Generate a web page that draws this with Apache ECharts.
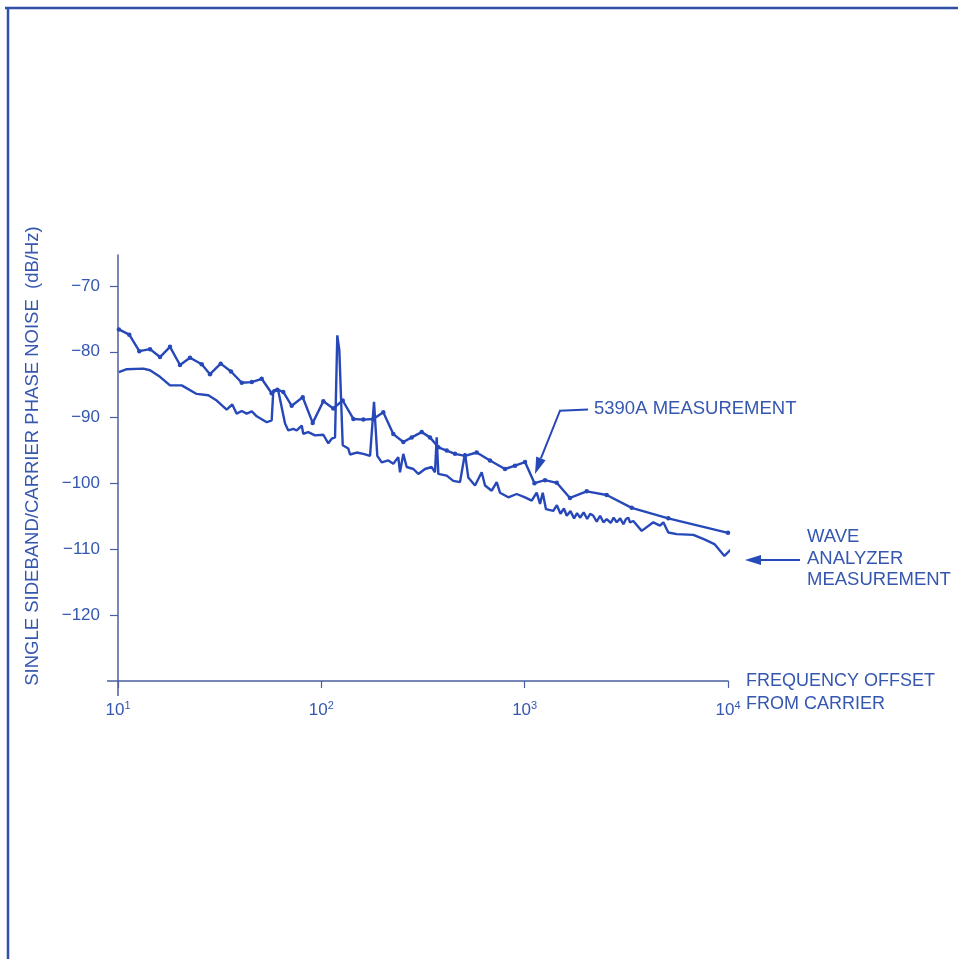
<!DOCTYPE html>
<html>
<head>
<meta charset="utf-8">
<script src="https://cdn.jsdelivr.net/npm/echarts@6/dist/echarts.min.js"></script>
<style>
html,body{margin:0;padding:0;background:#fff;}
#chart{width:958px;height:959px;}
</style>
</head>
<body>
<div id="chart"></div>
<script>
// 5390A measurement (upper, with dots): frequency offset (Hz) and dB/Hz
const upperX = [10.1, 11.36, 12.73, 14.37, 16.09, 18.02, 20.18, 22.6, 25.8, 28.35, 32.0, 35.95, 40.6, 45.5, 50.9, 57.0, 60.8, 65.0, 71.5, 81.0, 90.7, 102.3, 114.5, 127.4, 143.7, 160.9, 180.2, 201.7, 225.9, 253.0, 278.3, 311.6, 342.3, 376.2, 413.7, 454.4, 508.8, 580.9, 675.2, 800.5, 896.4, 1004, 1118, 1259, 1438, 1671, 2019, 2532, 3361, 5087, 10000];
const upperY = [-76.6, -77.4, -79.9, -79.6, -80.8, -79.25, -82.0, -80.9, -81.9, -83.4, -81.8, -83.0, -84.7, -84.6, -84.1, -86.3, -85.75, -86.1, -88.2, -86.9, -90.8, -87.5, -88.6, -87.4, -90.2, -90.3, -90.2, -89.2, -92.5, -93.7, -93.0, -92.2, -93.0, -94.5, -95.0, -95.5, -95.8, -95.3, -96.5, -97.8, -97.3, -96.75, -99.95, -99.5, -99.9, -102.2, -101.2, -101.75, -103.7, -105.3, -107.5];

// Wave analyzer measurement (lower, noisy with line-frequency spurs)
const lowerX = [10.1, 11.04, 13.32, 14.37, 16.09, 18.02, 20.57, 24.38, 27.8, 30.58, 34.24, 36.48, 38.35, 40.6, 42.95, 45.5, 48.1, 53.9, 57.0, 58.05, 61.2, 66.3, 68.8, 72.8, 75.7, 80.1, 81.5, 86.3, 93.1, 102.3, 108.2, 112.5, 116.8, 119.8, 122.6, 127.4, 135.7, 138.4, 149.3, 160.9, 173.6, 181.6, 188.5, 198.1, 213.5, 225.9, 239.0, 243.7, 253.0, 262.9, 283.5, 300, 323.5, 349, 362.2, 369.3, 376.2, 413.7, 445.7, 480.8, 508.8, 528.1, 569.9, 614.8, 638.2, 688.5, 728.6, 756.3, 830.9, 913.7, 1004, 1083, 1146, 1190, 1227, 1273, 1383, 1440, 1500, 1560, 1610, 1680, 1750, 1810, 1872, 1950, 2030, 2100, 2176, 2260, 2350, 2440, 2532, 2650, 2740, 2836, 2950, 3060, 3150, 3234, 3296, 3422, 3764, 4293, 4630, 4808, 5087, 5595, 6752, 7654, 8574, 9601, 10360, 11165];
const lowerY = [-83.1, -82.65, -82.55, -82.8, -83.8, -85.1, -85.1, -86.4, -86.6, -87.4, -88.8, -88.0, -89.4, -89.0, -89.4, -89.05, -89.8, -90.7, -90.4, -85.85, -85.7, -90.9, -91.95, -91.7, -91.95, -91.2, -92.45, -92.2, -92.7, -92.6, -93.9, -93.2, -93.0, -77.5, -79.75, -94.2, -94.7, -95.6, -95.3, -95.5, -95.8, -87.6, -95.8, -96.8, -96.5, -97.0, -96.0, -98.3, -95.5, -97.5, -97.8, -98.55, -97.8, -97.5, -98.3, -93.0, -98.55, -98.8, -99.6, -99.8, -95.4, -99.1, -100.3, -98.3, -100.3, -101.1, -99.8, -101.4, -102.1, -101.6, -102.1, -102.6, -101.4, -103.1, -101.4, -103.9, -104.15, -103.3, -104.6, -103.8, -104.9, -104.2, -105.3, -104.5, -105.2, -104.4, -105.4, -104.6, -104.9, -105.8, -104.9, -105.9, -105.4, -106.0, -105.2, -105.9, -105.3, -106.2, -105.4, -105.2, -105.9, -105.7, -107.2, -105.9, -106.4, -105.9, -107.45, -107.7, -107.8, -108.5, -109.2, -111.0, -110.0, -111.8];

const yTicks = [-120, -110, -100, -90, -80, -70];
const xTicks = [10, 100, 1000, 10000];

const upperData = upperX.map((x, i) => [x, upperY[i]]);
const lowerData = lowerX.map((x, i) => [x, lowerY[i]]);

const LINE = '#2748b8';
const TEXT = '#3557b0';
const AXIS = '#4a5f9e';
const FONT = '"Liberation Sans", Arial, sans-serif';

const chart = echarts.init(document.getElementById('chart'), null, {renderer: 'canvas'});

chart.setOption({
  backgroundColor: '#ffffff',
  animation: false,
  grid: {left: 118, right: 230, top: 255, bottom: 278, containLabel: false},
  xAxis: {
    type: 'log',
    logBase: 10,
    min: 10,
    max: 10000,
    name: '\nFREQUENCY OFFSET\nFROM CARRIER',
    nameLocation: 'end',
    nameGap: 18,
    nameTextStyle: {
      color: TEXT, fontFamily: FONT, fontSize: 18, align: 'left',
      verticalAlign: 'middle', lineHeight: 23
    },
    axisLine: {show: true, lineStyle: {color: AXIS, width: 1.5}},
    axisTick: {show: true, length: 7, lineStyle: {color: AXIS, width: 1.2}, customValues: xTicks},
    minorTick: {show: false},
    splitLine: {show: false},
    axisLabel: {
      customValues: xTicks,
      margin: 19,
      formatter: v => '{b|10}{s|' + Math.round(Math.log10(v)) + '}',
      rich: {
        b: {color: TEXT, fontFamily: FONT, fontSize: 17, padding: [2, 0, 0, 0]},
        s: {color: TEXT, fontFamily: FONT, fontSize: 11, verticalAlign: 'top'}
      }
    }
  },
  yAxis: {
    type: 'value',
    min: -130,
    max: -65.3,
    interval: 10,
    name: 'SINGLE SIDEBAND/CARRIER PHASE NOISE  (dB/Hz)',
    nameLocation: 'middle',
    nameGap: 76,
    nameRotate: 90,
    nameTextStyle: {color: TEXT, fontFamily: FONT, fontSize: 18.5, padding: [0, 0, 0, 24]},
    axisLine: {show: true, lineStyle: {color: AXIS, width: 1.5}},
    axisTick: {show: true, length: 8, lineStyle: {color: AXIS, width: 1.2}, customValues: yTicks},
    splitLine: {show: false},
    axisLabel: {
      customValues: yTicks,
      margin: 18,
      color: TEXT, fontFamily: FONT, fontSize: 17,
      formatter: v => '\u2212' + Math.abs(v)
    }
  },
  series: [
    {
      name: '5390A MEASUREMENT',
      type: 'line',
      data: upperData,
      symbol: 'circle',
      symbolSize: 4.5,
      showAllSymbol: true,
      itemStyle: {color: LINE},
      lineStyle: {color: LINE, width: 2.4},
      z: 3
    },
    {
      name: 'WAVE ANALYZER MEASUREMENT',
      type: 'line',
      data: lowerData,
      showSymbol: false,
      clip: false,
      lineStyle: {color: LINE, width: 2.4},
      z: 2
    }
  ]
});

// axis overhangs at the origin (axes cross slightly), from axis scales
const o = chart.convertToPixel({gridIndex: 0}, [10, -130]);
const graphics = [
  {type: 'line', shape: {x1: o[0] - 11, y1: o[1], x2: o[0], y2: o[1]}, style: {stroke: AXIS, lineWidth: 1.5}},
  {type: 'line', shape: {x1: o[0], y1: o[1], x2: o[0], y2: o[1] + 15}, style: {stroke: AXIS, lineWidth: 1.5}},
  // page frame
  {type: 'line', shape: {x1: 5, y1: 8, x2: 958, y2: 8}, style: {stroke: '#2f4fa8', lineWidth: 2.5}},
  {type: 'line', shape: {x1: 8, y1: 7, x2: 8, y2: 959}, style: {stroke: '#2f4fa8', lineWidth: 2.5}},
  // annotations
  {type: 'polyline', shape: {points: [[588, 409.5], [560, 410.7], [540.9, 458.4]]}, style: {stroke: LINE, lineWidth: 2, fill: null}},
  {type: 'polygon', shape: {points: [[535, 474], [545.6, 460.3], [536.2, 456.5]]}, style: {fill: LINE}},
  {type: 'text', x: 594, y: 409, style: {text: '5390A MEASUREMENT', fill: TEXT, font: '18.5px ' + FONT, verticalAlign: 'middle', align: 'left'}},
  {type: 'line', shape: {x1: 800, y1: 560, x2: 758, y2: 560}, style: {stroke: LINE, lineWidth: 2}},
  {type: 'polygon', shape: {points: [[745, 560], [761, 555], [761, 565]]}, style: {fill: LINE}},
  {type: 'text', x: 807, y: 537, style: {text: 'WAVE', fill: TEXT, font: '18.5px ' + FONT, verticalAlign: 'middle', align: 'left'}},
  {type: 'text', x: 807, y: 558.5, style: {text: 'ANALYZER', fill: TEXT, font: '18.5px ' + FONT, verticalAlign: 'middle', align: 'left'}},
  {type: 'text', x: 807, y: 580, style: {text: 'MEASUREMENT', fill: TEXT, font: '18.5px ' + FONT, verticalAlign: 'middle', align: 'left'}}
];
chart.setOption({graphic: graphics});
</script>
</body>
</html>
